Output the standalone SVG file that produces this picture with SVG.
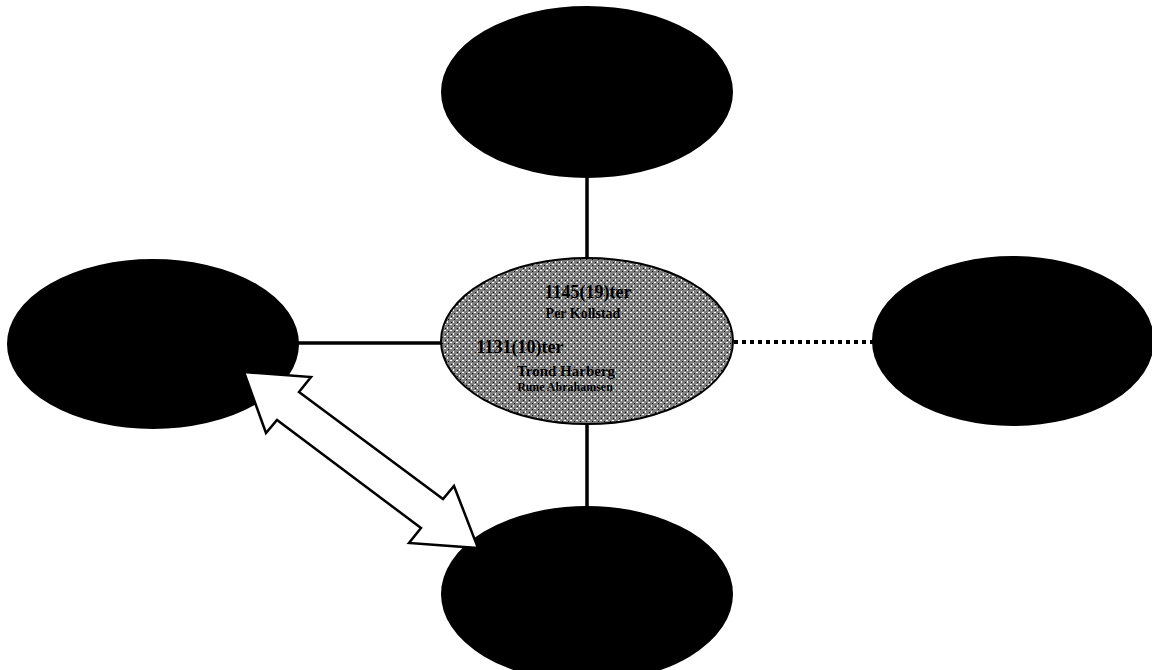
<svg xmlns="http://www.w3.org/2000/svg" width="1152" height="670" viewBox="0 0 1152 670">
<style>
.dark{fill:#000;stroke:#000;stroke-width:2}
.conn{stroke:#000;stroke-width:3.5;fill:none}
.dot{stroke:#000;stroke-width:4;stroke-dasharray:4 4;fill:none}
.block{fill:#fff;stroke:#000;stroke-width:2.5;stroke-linejoin:miter}
.t{font-family:"Liberation Serif",serif;fill:#000;text-anchor:middle;font-weight:bold}
</style>
<defs>
<pattern id="stip" width="6" height="6" patternUnits="userSpaceOnUse">
<rect width="6" height="6" fill="#808080"/>
<rect x="0" y="0" width="2" height="1" fill="#fff"/>
<rect x="3" y="3" width="1" height="2" fill="#fff"/>
<rect x="4" y="1" width="1" height="1" fill="#000"/>
<rect x="1" y="4" width="1" height="1" fill="#000"/>
</pattern>
</defs>
<rect width="1152" height="670" fill="#fff"/>
<g id="node-top"><ellipse class="dark" cx="587" cy="92" rx="145" ry="85"/></g>
<g id="node-left"><ellipse class="dark" cx="153" cy="344" rx="145" ry="84"/></g>
<g id="node-right"><ellipse class="dark" cx="1013" cy="341" rx="140" ry="84"/></g>
<g id="node-bottom"><ellipse class="dark" cx="587" cy="594" rx="145" ry="87"/></g>
<g id="node-center">
<ellipse cx="587" cy="341" rx="146" ry="83" fill="url(#stip)" stroke="#000" stroke-width="2"/>
<text class="t" x="588" y="298" font-size="18">1145(19)ter</text>
<text class="t" x="583" y="318" font-size="14">Per Kollstad</text>
<text class="t" x="520" y="353" font-size="18">1131(10)ter</text>
<text class="t" x="566" y="376" font-size="15">Trond Harberg</text>
<text class="t" x="565" y="391" font-size="12">Rune Abrahamsen</text>
</g>
<g id="connectors">
<line class="conn" x1="587" y1="177" x2="587" y2="258"/>
<line class="conn" x1="298" y1="343" x2="441" y2="343"/>
<line class="conn" x1="587" y1="424" x2="587" y2="507"/>
<line class="dot" x1="734" y1="342" x2="873" y2="342"/>
<polygon class="block" points="244,372 311,377 299,392 443,499 454,486 478,548 409,543 421,528 277,420 266,433"/>
</g>
</svg>
